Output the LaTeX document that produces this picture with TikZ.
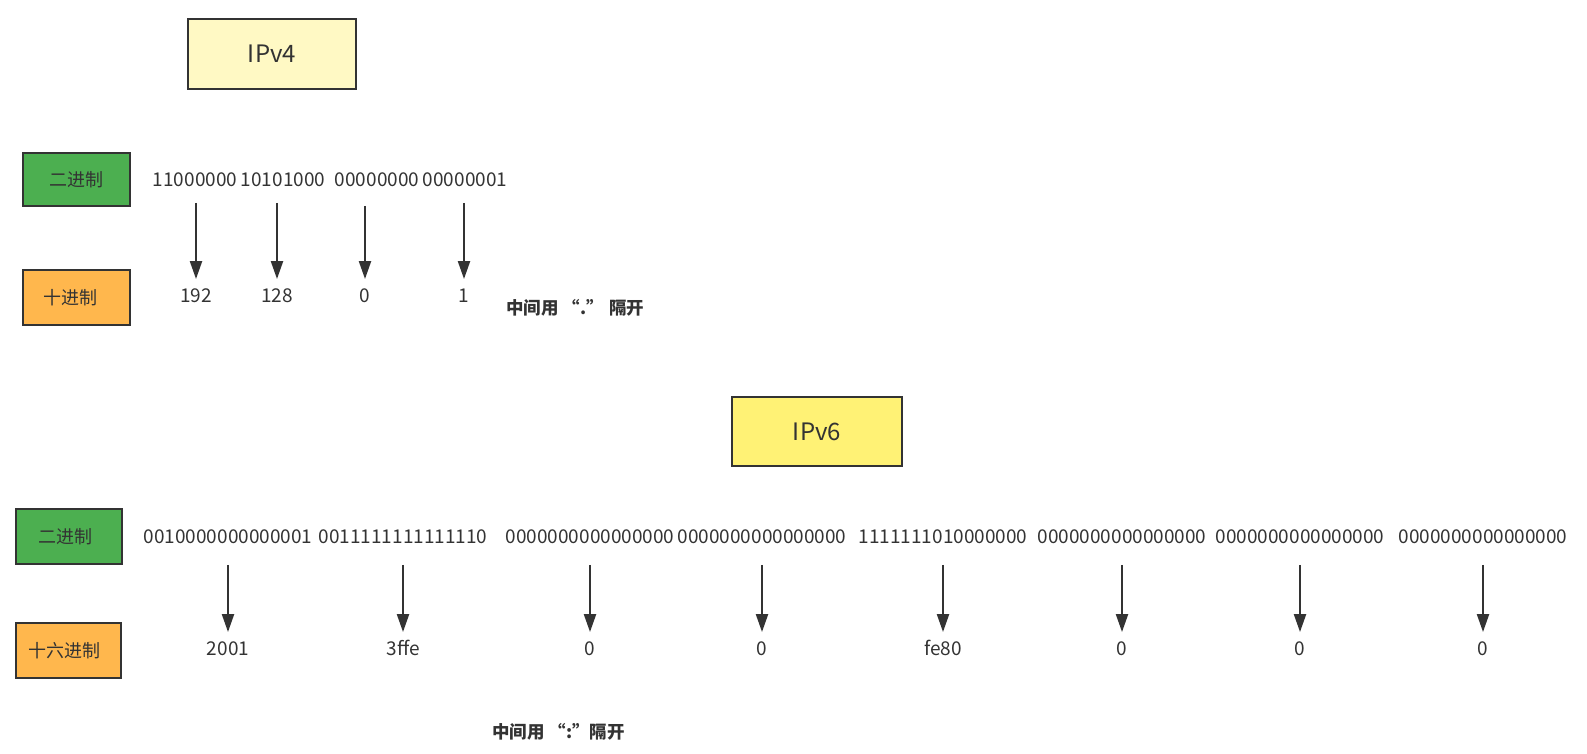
\documentclass[tikz,border=0pt]{standalone}
\usepackage{fontspec}
\setmainfont{Noto Sans CJK SC}
\usetikzlibrary{arrows.meta,calc}
\definecolor{ink}{HTML}{333333}
\definecolor{vfourfill}{HTML}{FFF9C4}
\definecolor{vsixfill}{HTML}{FFF275}
\definecolor{greenfill}{HTML}{4CAF50}
\definecolor{orangefill}{HTML}{FFB74D}
\begin{document}
\begin{tikzpicture}[x=1pt,y=-1pt,
  box/.style={draw=ink, line width=1.8pt, inner sep=0pt, text=ink, font=\fontsize{18}{20}\selectfont},
  titlebox/.style={box, font=\fontsize{24}{28}\selectfont},
  lbl/.style={text=ink, font=\fontsize{19}{21}\selectfont, inner sep=0pt, text height=13.5pt, text depth=0pt},
  note/.style={text=ink, font=\fontsize{17.5}{20}\selectfont\bfseries, inner sep=0pt, anchor=west},
  arr/.style={draw=ink, line width=2.2pt, -{Triangle[length=18pt,width=12pt]}}]
\useasboundingbox (0,0) rectangle (1587,753);

% ---------- IPv4 ----------
\node[titlebox, fill=vfourfill, minimum width=168pt, minimum height=70pt] (v4) at (272,54) {IPv4};
\node[box, fill=greenfill, minimum width=107pt, minimum height=53pt] (bin4) at (76.5,179.5) {二进制};
\node[box, fill=orangefill, minimum width=107pt, minimum height=55pt] (dec4) at (76.5,297.5) {\hspace*{-12pt}十进制};

\node[lbl] (b1) at (195,180) {11000000};
\node[lbl] (b2) at (283,180) {10101000};
\node[lbl] (b3) at (377,180) {00000000};
\node[lbl] (b4) at (465,180) {00000001};

\node[lbl] (d1) at (196,296) {192};
\node[lbl] (d2) at (277,296) {128};
\node[lbl] (d3) at (365,296) {0};
\node[lbl] (d4) at (464,296) {1};

\draw[arr] ($(d1|-b1.south)+(0,16)$) -- ($(d1.north)+(0,-10)$);
\draw[arr] ($(d2|-b2.south)+(0,16)$) -- ($(d2.north)+(0,-10)$);
\draw[arr] ($(d3|-b3.south)+(0,19)$) -- ($(d3.north)+(0,-10)$);
\draw[arr] ($(d4|-b4.south)+(0,16)$) -- ($(d4.north)+(0,-10)$);

\node[note] (n4) at (506,308) {中间用 “.” 隔开};

% ---------- IPv6 ----------
\node[titlebox, fill=vsixfill, minimum width=170pt, minimum height=69pt] (v6) at (817,431.5) {IPv6};
\node[box, fill=greenfill, minimum width=106pt, minimum height=55pt] (bin6) at (69,536.5) {\hspace*{-8pt}二进制};
\node[box, fill=orangefill, minimum width=105pt, minimum height=55pt] (hex6) at (68.5,650.5) {\hspace*{-8pt}十六进制};

\foreach \i/\x/\b/\h in {1/228/0010000000000001/2001,
                          2/403/0011111111111110/3ffe,
                          3/590/0000000000000000/0,
                          4/762/0000000000000000/0,
                          5/943/1111111010000000/fe80,
                          6/1122/0000000000000000/0,
                          7/1300/0000000000000000/0,
                          8/1483/0000000000000000/0}{
  \node[lbl] (s\i) at (\x,537) {\b};
  \node[lbl] (h\i) at (\x,649) {\h};
  \draw[arr] ($(h\i|-s\i.south)+(0,21)$) -- ($(h\i.north)+(0,-10)$);
}

\node[note] (n6) at (492,732) {中间用 “:”隔开};
\end{tikzpicture}
\end{document}
